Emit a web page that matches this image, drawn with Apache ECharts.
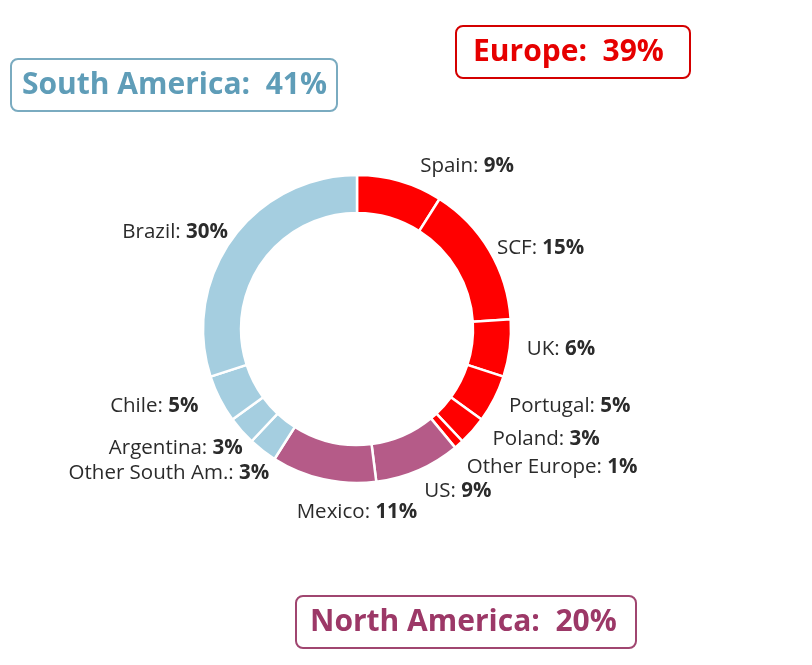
<!DOCTYPE html>
<html>
<head>
<meta charset="utf-8">
<script src="https://cdn.jsdelivr.net/npm/echarts@6/dist/echarts.min.js"></script>
<style>html,body{margin:0;padding:0;background:#fff;}#c{width:812px;height:665px;}</style>
</head>
<body>
<div id="c"></div>
<script>
const categories = ['Spain', 'SCF', 'UK', 'Portugal', 'Poland', 'Other Europe', 'US', 'Mexico', 'Other South Am.', 'Argentina', 'Chile', 'Brazil'];
const values = [9, 15, 6, 5, 3, 1, 9, 11, 3, 3, 5, 30];
const regionOf = ['Europe', 'Europe', 'Europe', 'Europe', 'Europe', 'Europe', 'North America', 'North America', 'South America', 'South America', 'South America', 'South America'];
const regionNames = ['South America', 'Europe', 'North America'];
const regionTotals = [41, 39, 20];

const regionColor = { 'Europe': '#ff0000', 'North America': '#b55b88', 'South America': '#a5cee0' };
const FONT = 'Open Sans';
const CX = 357, CY = 329, R_IN = 116, R_OUT = 154;
// small label offsets (layout only)
const labelNudge = {
  'Spain': [9, -7], 'SCF': [-4, 2], 'UK': [5, 0], 'Portugal': [2, 4], 'Poland': [6, 3],
  'Other Europe': [2, 8], 'US': [-6, 9], 'Other South Am.': [14, 14], 'Argentina': [12, 12],
  'Chile': [-10, 4], 'Brazil': [11, -2]
};

const chart = echarts.init(document.getElementById('c'));
const data = categories.map((n, i) => ({ name: n, value: values[i], itemStyle: { color: regionColor[regionOf[i]] } }));

function boxTitle(text, left, top, color, border, pad) {
  return {
    text: text, left: left, top: top,
    padding: pad,
    borderColor: border, borderWidth: 2, borderRadius: 7,
    textStyle: { fontFamily: FONT, fontSize: 30, lineHeight: 36, fontWeight: 'bold', color: color }
  };
}

chart.setOption({
  animation: false,
  title: [
    boxTitle(regionNames[0] + ':  ' + regionTotals[0] + '%', 11, 59, '#5f9db8', '#7aabc0', [8, 10, 8, 11]),
    boxTitle(regionNames[1] + ':  ' + regionTotals[1] + '%', 456, 26, '#e60000', '#d40000', [8, 26, 8, 17]),
    boxTitle(regionNames[2] + ':  ' + regionTotals[2] + '%', 296, 596, '#9c3867', '#a04670', [8, 19, 8, 14])
  ],
  series: [{
    type: 'pie',
    center: [CX, CY],
    radius: [R_IN, R_OUT],
    startAngle: 90,
    clockwise: true,
    data: data,
    itemStyle: { borderColor: '#fff', borderWidth: 2.5 },
    label: {
      show: true,
      position: 'outside',
      formatter: p => '{n|' + p.name + ': }{v|' + p.value + '%}',
      rich: {
        n: { fontFamily: FONT, fontSize: 20.5, color: '#2b2b2b' },
        v: { fontFamily: FONT, fontSize: 20.5, fontWeight: 'bold', color: '#2b2b2b' }
      }
    },
    labelLine: { show: false, length: 8, length2: 4 },
    labelLayout: function (p) {
      const name = categories[p.dataIndex];
      if (name === 'Mexico') {
        return { x: CX, y: CY + R_OUT + 29, align: 'center', verticalAlign: 'middle' };
      }
      const n = labelNudge[name];
      return n ? { dx: n[0], dy: n[1] } : {};
    }
  }]
});
</script>
</body>
</html>
